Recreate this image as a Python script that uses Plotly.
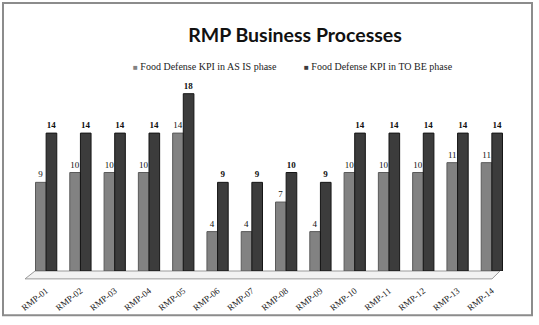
import plotly.graph_objects as go

categories = ["RMP-01", "RMP-02", "RMP-03", "RMP-04", "RMP-05", "RMP-06", "RMP-07",
              "RMP-08", "RMP-09", "RMP-10", "RMP-11", "RMP-12", "RMP-13", "RMP-14"]
as_is = [9, 10, 10, 10, 14, 4, 4, 7, 4, 10, 10, 10, 11, 11]
to_be = [14, 14, 14, 14, 18, 9, 9, 10, 9, 14, 14, 14, 14, 14]
series_names = ["Food Defense KPI in AS IS phase", "Food Defense KPI in TO BE phase"]
series_colors = ["#828282", "#3c3c3c"]

W, H = 539, 325
L, R, T, B = 29, 30, 74, 51
pw, ph = W - L - R, H - T - B

def px(x):
    return (x - L) / pw

def py(y):
    return (H - B - y) / ph

fig = go.Figure()
fig.add_trace(go.Bar(
    x=categories, y=as_is, name=series_names[0],
    marker=dict(color=series_colors[0], line=dict(color="#5a5a5a", width=1)),
    text=as_is, textposition="outside",
    textfont=dict(family="Liberation Serif", size=9, color="#111111"),
    cliponaxis=False,
))
fig.add_trace(go.Bar(
    x=categories, y=to_be, name=series_names[1],
    marker=dict(color=series_colors[1], line=dict(color="#151515", width=1)),
    text=[f"<b>{v}</b>" for v in to_be], textposition="outside",
    textfont=dict(family="Liberation Serif", size=9, color="#111111"),
    cliponaxis=False,
))

# legend drawn as text
leg_x = [131, 302]
for name, col, x in zip(series_names, series_colors, leg_x):
    fig.add_annotation(xref="paper", yref="paper", x=px(x), y=py(66),
                       xanchor="left", yanchor="middle", showarrow=False,
                       text=f"<span style='color:{col};font-size:8px'>■</span> {name}",
                       font=dict(family="Liberation Serif", size=10, color="#222222"))

# floor
fig.add_shape(type="path", xref="paper", yref="paper",
              path=f"M {px(35)} {py(274)} L {px(500)} {py(274)} L {px(492)} {py(282)} L {px(25)} {py(282)} Z",
              fillcolor="#f2f2f2", line=dict(color="#9a9a9a", width=1), layer="below")
# outer border
fig.add_shape(type="rect", xref="paper", yref="paper",
              x0=px(3), x1=px(532), y0=py(319), y1=py(2),
              line=dict(color="#8c8c8c", width=2), fillcolor="rgba(0,0,0,0)")

fig.update_layout(
    width=W, height=H,
    margin=dict(l=L, r=R, t=T, b=B),
    paper_bgcolor="white", plot_bgcolor="white",
    title=dict(text="<b>RMP Business Processes</b>", x=px(295), xanchor="center",
               xref="paper", y=1 - 35 / H, yanchor="middle",
               font=dict(family="Lato", size=19.5, color="#111111")),
    barmode="group", bargap=0.38, bargroupgap=0.0,
    showlegend=False,
)
fig.update_xaxes(showgrid=False, showline=False, ticks="", tickangle=-38,
                 tickfont=dict(family="Liberation Serif", size=9, color="#222222"),
                 ticklabelstandoff=12)
fig.update_yaxes(range=[0, 20], visible=False, showgrid=False)

fig.write_html("out.html", config={"displayModeBar": False},
               post_script="document.body.style.margin='0px';")
